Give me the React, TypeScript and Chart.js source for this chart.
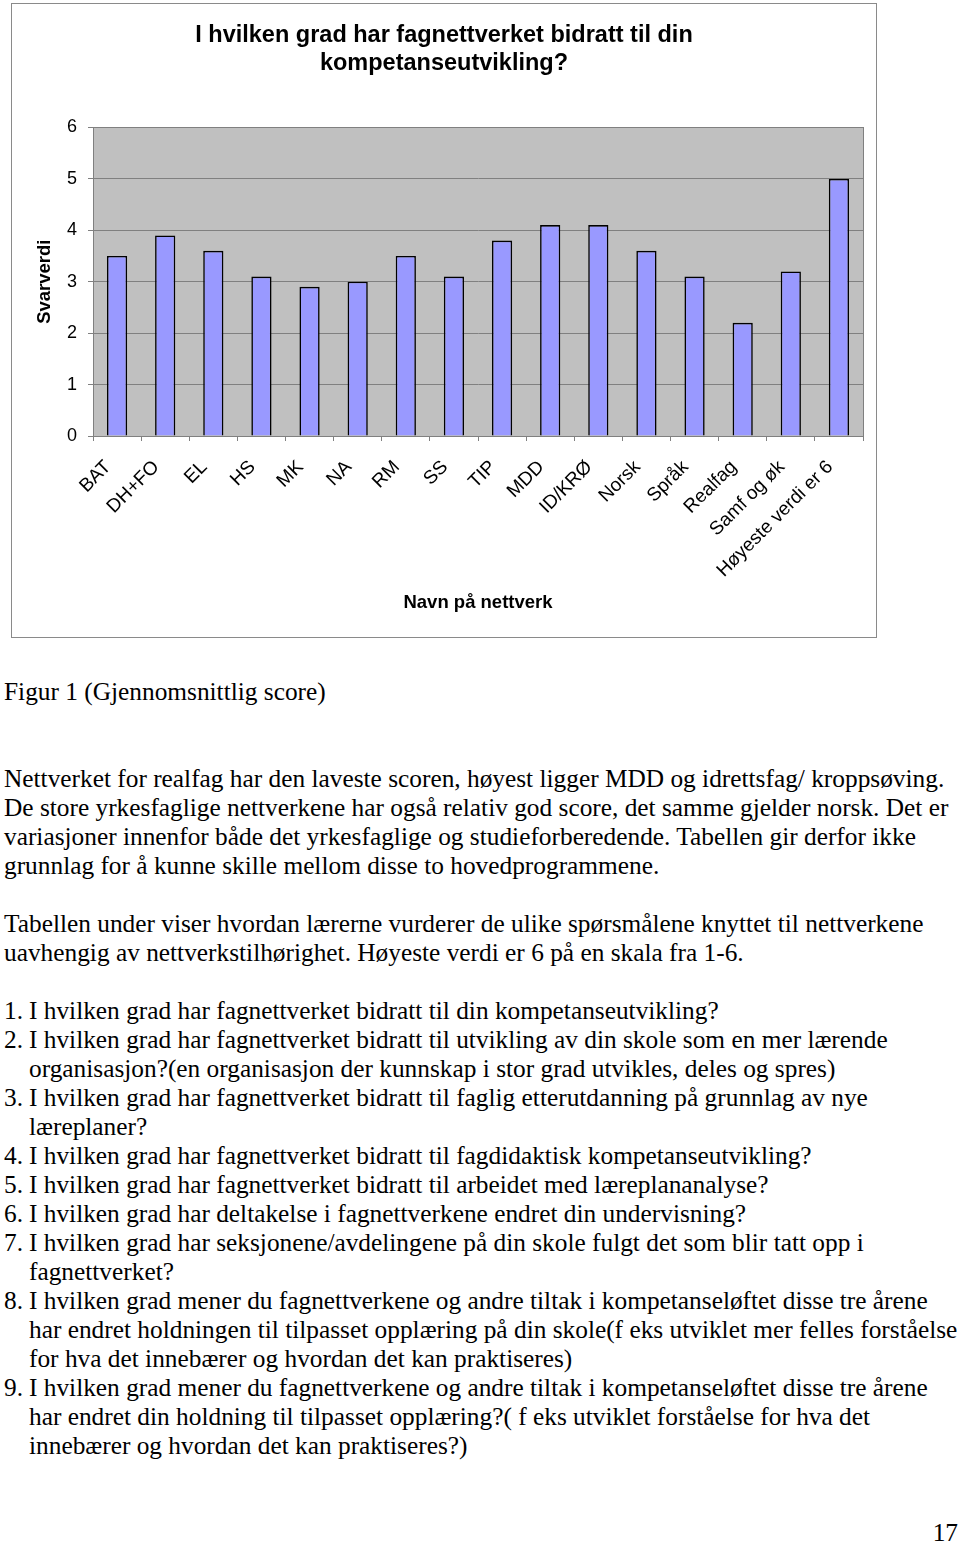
import React, { useEffect, useRef } from 'react';
import { Chart, registerables } from 'chart.js';

Chart.register(...registerables);

const categories = ['BAT', 'DH+FO', 'EL', 'HS', 'MK', 'NA', 'RM', 'SS', 'TIP', 'MDD', 'ID/KRØ', 'Norsk', 'Språk', 'Realfag', 'Samf og øk', 'Høyeste verdi er 6'];
const values = [3.5, 3.9, 3.6, 3.1, 2.9, 3.0, 3.5, 3.1, 3.8, 4.1, 4.1, 3.6, 3.1, 2.2, 3.2, 5.0];
const yMin = 0;
const yMax = 6;
const yStep = 1;
const chartTitle = ['I hvilken grad har fagnettverket bidratt til din', 'kompetanseutvikling?'];
const xTitle = 'Navn på nettverk';
const yTitle = 'Svarverdi';

const caption = 'Figur 1 (Gjennomsnittlig score)';
const paragraph1 = [
  'Nettverket for realfag har den laveste scoren, høyest ligger MDD og idrettsfag/ kroppsøving.',
  'De store yrkesfaglige nettverkene har også relativ god score, det samme gjelder norsk. Det er',
  'variasjoner innenfor både det yrkesfaglige og studieforberedende. Tabellen gir derfor ikke',
  'grunnlag for å kunne skille mellom disse to hovedprogrammene.',
];
const paragraph2 = [
  'Tabellen under viser hvordan lærerne vurderer de ulike spørsmålene knyttet til nettverkene',
  'uavhengig av nettverkstilhørighet. Høyeste verdi er 6 på en skala fra 1-6.',
];
const questions: string[][] = [
  ['I hvilken grad har fagnettverket bidratt til din kompetanseutvikling?'],
  ['I hvilken grad har fagnettverket bidratt til utvikling av din skole som en mer lærende', 'organisasjon?(en organisasjon der kunnskap i stor grad utvikles, deles og spres)'],
  ['I hvilken grad har fagnettverket bidratt til faglig etterutdanning på grunnlag av nye', 'læreplaner?'],
  ['I hvilken grad har fagnettverket bidratt til fagdidaktisk kompetanseutvikling?'],
  ['I hvilken grad har fagnettverket bidratt til arbeidet med læreplananalyse?'],
  ['I hvilken grad har deltakelse i fagnettverkene endret din undervisning?'],
  ['I hvilken grad har seksjonene/avdelingene på din skole fulgt det som blir tatt opp i', 'fagnettverket?'],
  ['I hvilken grad mener du fagnettverkene og andre tiltak i kompetanseløftet disse tre årene', 'har endret holdningen til tilpasset opplæring på din skole(f eks utviklet mer felles forståelse', 'for hva det innebærer og hvordan det kan praktiseres)'],
  ['I hvilken grad mener du fagnettverkene og andre tiltak i kompetanseløftet disse tre årene', 'har endret din holdning til tilpasset opplæring?( f eks utviklet forståelse for hva det', 'innebærer og hvordan det kan praktiseres?)'],
];
const pageNumber = '17';

const plotBg = {
  id: 'plotBg',
  beforeDraw(chart: any) {
    const { ctx, chartArea } = chart;
    if (!chartArea) return;
    ctx.save();
    ctx.fillStyle = '#c0c0c0';
    ctx.fillRect(chartArea.left, chartArea.top, chartArea.right - chartArea.left, chartArea.bottom - chartArea.top);
    ctx.restore();
  },
  beforeDatasetsDraw(chart: any) {
    const { ctx, chartArea } = chart;
    ctx.save();
    ctx.strokeStyle = '#808080';
    ctx.lineWidth = 1;
    ctx.strokeRect(Math.round(chartArea.left) + 0.5, Math.round(chartArea.top) + 0.5, Math.round(chartArea.right - chartArea.left), Math.round(chartArea.bottom - chartArea.top));
    ctx.restore();
  },
};

function BarChart() {
  const ref = useRef<HTMLCanvasElement | null>(null);
  useEffect(() => {
    if (!ref.current) return;
    Chart.defaults.font.family = '"Liberation Sans", Arial, sans-serif';
    const chart = new Chart(ref.current, {
      type: 'bar',
      data: {
        labels: categories,
        datasets: [
          {
            data: values,
            backgroundColor: '#9999ff',
            borderColor: '#000000',
            borderWidth: 1.6,
            borderSkipped: 'start',
            categoryPercentage: 1,
            barPercentage: 0.42,
          },
        ],
      },
      options: {
        animation: false,
        responsive: false,
        devicePixelRatio: 1,
        layout: { padding: { left: 13, right: 13, top: 0, bottom: 0 } },
        plugins: {
          legend: { display: false },
          tooltip: { enabled: false },
          title: {
            display: true,
            text: chartTitle,
            color: '#000',
            font: { size: 23.5, weight: 'bold', lineHeight: 1.2 },
            padding: { top: 17, bottom: 50 },
          },
        },
        scales: {
          x: {
            afterFit: (s: any) => { s.height = 201; },
            grid: { drawOnChartArea: false, drawTicks: true, tickLength: 5, color: '#808080', offset: true },
            border: { color: '#808080' },
            ticks: {
              color: '#000',
              font: { size: 19 },
              minRotation: 45,
              maxRotation: 45,
              autoSkip: false,
              padding: 15,
              labelOffset: -9,
            },
            title: {
              display: true,
              text: xTitle,
              color: '#000',
              font: { size: 18.5, weight: 'bold' },
              padding: { top: 0, bottom: 23 },
            },
          },
          y: {
            min: yMin,
            max: yMax,
            afterFit: (s: any) => { s.width = 68; },
            grid: { color: '#808080', tickLength: 5, drawTicks: true },
            border: { color: '#808080' },
            ticks: { stepSize: yStep, color: '#000', font: { size: 18 }, padding: 11 },
            title: {
              display: true,
              text: yTitle,
              color: '#000',
              font: { size: 18.5, weight: 'bold' },
              padding: { top: 9, bottom: 0 },
            },
          },
        },
      },
      plugins: [plotBg],
    } as any);
    return () => chart.destroy();
  }, []);
  return <canvas ref={ref} width={864} height={633} style={{ display: 'block' }} />;
}

const textStyle: React.CSSProperties = {
  fontFamily: '"Liberation Serif", "Times New Roman", serif',
  fontSize: '25.35px',
  lineHeight: '29px',
  color: '#000',
  whiteSpace: 'pre',
};

function Line({ children }: { children?: React.ReactNode }) {
  return <div style={{ height: 29 }}>{children}</div>;
}

export default function App() {
  return (
    <div style={{ position: 'absolute', left: 0, top: 0, width: 960, height: 1543, overflow: 'hidden', background: '#fff' }}>
      <div style={{ position: 'absolute', left: 11, top: 3, width: 866, height: 635, border: '1px solid #8a8a8a', boxSizing: 'border-box' }}>
        <BarChart />
      </div>
      <div style={{ ...textStyle, position: 'absolute', left: 4, top: 677, width: 956 }}>
        <Line>{caption}</Line>
        <Line />
        <Line />
        {paragraph1.map((l, i) => <Line key={'p1' + i}>{l}</Line>)}
        <Line />
        {paragraph2.map((l, i) => <Line key={'p2' + i}>{l}</Line>)}
        <Line />
        {questions.map((q, qi) =>
          q.map((l, li) => (
            <Line key={'q' + qi + '-' + li}>
              <span style={{ display: 'inline-block', width: 25 }}>{li === 0 ? qi + 1 + '.' : ''}</span>
              {l}
            </Line>
          ))
        )}
      </div>
      <div style={{ ...textStyle, position: 'absolute', left: 0, top: 1518, width: 958, textAlign: 'right' }}>{pageNumber}</div>
    </div>
  );
}
